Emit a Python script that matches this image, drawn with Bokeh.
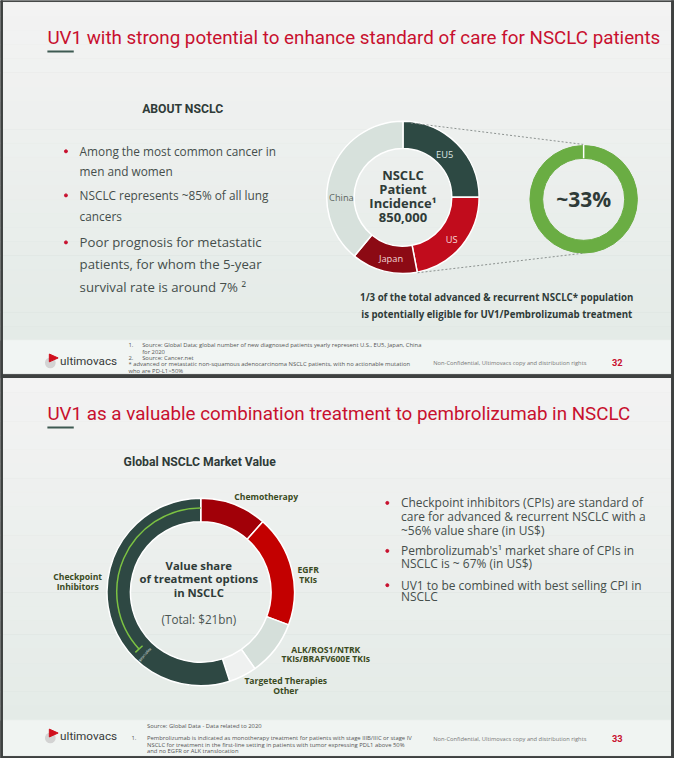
from bokeh.plotting import figure
from bokeh.models import Range1d
from bokeh.core.properties import value
from bokeh.embed import file_html
from bokeh.resources import INLINE
import numpy as np

# ---------------- data ----------------
incidence_labels = ["EU5", "US", "Japan", "China"]
incidence_share = [25, 22, 14, 39]          # % of 850,000 patients
eligible_share = 33                          # % eligible for UV1/Pembrolizumab

market_labels = ["Chemotherapy", "EGFR TKIs", "ALK/ROS1/NTRK TKIs/BRAFV600E TKIs",
                 "Targeted Therapies Other", "Checkpoint Inhibitors"]
market_share = [11.5, 19.2, 9.5, 4.8, 55.0]  # % of $21bn
pembro_share_of_cpi = 67                     # %

# ---------------- styles ----------------
RED = "#c8102e"
DARK = "#2f3b38"
TXT = "#454e4b"
OLIVE = "#3a4a22"
inc_colors = ["#2d4943", "#c10c1c", "#8c0a14", "#d7e1dc"]
inc_text_colors = ["#dfe7e4", "#f6dada", "#f2d6d6", "#5b6562"]
mk_colors = ["#a10008", "#c30000", "#d5dfda", "#eff1f0", "#2e4843"]

W, H = 674, 758
S = W / 690.0
p = figure(width=W, height=H, x_range=Range1d(0, 690), y_range=Range1d(-774, 0),
           output_backend="svg", toolbar_location=None, min_border=0)
p.axis.visible = False
p.grid.visible = False
p.outline_line_color = None
p.background_fill_color = "#f2f2f2"
p.border_fill_color = "#f2f2f2"


def hexmix(c1, c2, t):
    a = [int(c1[i:i + 2], 16) for i in (1, 3, 5)]
    b = [int(c2[i:i + 2], 16) for i in (1, 3, 5)]
    return "#%02x%02x%02x" % tuple(int(round(a[k] + (b[k] - a[k]) * t)) for k in range(3))


def band(y0, y1, c0, c1, n=24):
    ys = np.linspace(y0, y1, n + 1)
    cols = [hexmix(c0, c1, (i + 0.5) / n) for i in range(n)]
    p.quad(left=0, right=690, top=[-v for v in ys[:-1]], bottom=[-v for v in ys[1:]],
           fill_color=cols, line_color=cols)


def t(x, y, s, size, color=TXT, style="normal", align="left", font="Open Sans", angle=0.0):
    p.text(x=[x], y=[-y], text=[s], text_font=value(font), text_font_size=f"{size * S:.2f}px",
           text_color=color, text_font_style=style, text_align=align,
           text_baseline="middle", angle=angle)


# backgrounds and slide frames
p.quad(left=0, right=690, top=0, bottom=-774, fill_color="#3e4140", line_color="#3e4140")
band(2, 347, "#f3f3f3", "#e4ebe7")
p.quad(left=2, right=687, top=-347, bottom=-381, fill_color="#f1f5f3", line_color="#f1f5f3")
band(386, 735, "#f3f3f3", "#e4ebe7")
p.quad(left=2, right=687, top=-735, bottom=-771, fill_color="#f0f4f2", line_color="#f0f4f2")
for xl, xr in [(0, 2), (687, 690)]:
    p.quad(left=xl, right=xr, top=0, bottom=-774, fill_color="#3e4140", line_color="#3e4140")

# ================= SLIDE 1 =================
t(48, 38, "UV1 with strong potential to enhance standard of care for NSCLC patients", 19.25, RED, font="Roboto")
p.line([48, 75], [-52, -52], line_color="#3e5a52", line_width=2)
t(145, 111, "ABOUT NSCLC", 12.5, DARK, "bold", font="Roboto")

bul1 = [(154, "Among the most common cancer in", True), (174, "men and women", False),
        (199, "NSCLC represents ~85% of all lung", True), (220, "cancers", False),
        (247, "Poor prognosis for metastatic", True), (269, "patients, for whom the 5-year", False),
        (293, "survival rate is around 7% \u00b2", False)]
for y, s, dot in bul1:
    sz = 12.1 if y < 240 else 13.5
    t(81, y, s, sz, TXT)
    if dot:
        p.scatter([67], [-y], size=3, color=RED)

# donut 1
cx1, cy1, ri1, ro1 = 412, 201, 50, 78
cum = np.concatenate([[0], np.cumsum(incidence_share)]) / 100.0
starts = [90 - 360 * cum[i + 1] for i in range(4)]
ends = [90 - 360 * cum[i] for i in range(4)]
p.annular_wedge(x=cx1, y=-cy1, inner_radius=ri1, outer_radius=ro1,
                start_angle=starts, end_angle=ends, start_angle_units="deg", end_angle_units="deg",
                fill_color=inc_colors, line_color="white", line_width=1.5)
lab_ang = [45.5, -41, -101, 180]
lab_r = [61, 66, 64, 63]
for i, lab in enumerate(incidence_labels):
    a = np.radians(lab_ang[i])
    t(cx1 + lab_r[i] * np.cos(a), cy1 - lab_r[i] * np.sin(a), lab, 9.5, inc_text_colors[i],
      align="center", font="Open Sans")
for y, s in [(178, "NSCLC"), (192.5, "Patient"), (207, "Incidence\u00b9"), (221.5, "850,000")]:
    t(cx1, y, s, 13.3, DARK, "bold", "center")

# connector lines
p.line([420, 597], [-125, -147], line_color="#8c9290", line_dash="2 2", line_width=1)
p.line([427, 597], [-278, -258], line_color="#8c9290", line_dash="2 2", line_width=1)

# green ring
gx, gy = 597, 203
p.annular_wedge(x=gx, y=-gy, inner_radius=42, outer_radius=55, start_angle=-270, end_angle=90,
                start_angle_units="deg", end_angle_units="deg",
                fill_color="#6aad43", line_color="#6aad43")
p.line([gx, gx], [-147, -161], line_color="white", line_width=1.5)
t(gx, gy, f"~{eligible_share}%", 21.5, DARK, "bold", "center")

t(508, 303, "1/3 of the total advanced & recurrent NSCLC* population", 9.9, DARK, "bold", "center")
t(508, 321, "is potentially eligible for UV1/Pembrolizumab treatment", 9.9, DARK, "bold", "center")


def logo(yc):
    p.circle(x=[51], y=[-(yc + 2)], radius=5.5, fill_color="#d3d3d3", line_color=None)
    p.patch([50, 50, 59], [-(yc - 7), -(yc + 1), -(yc - 3)], fill_color="#d0101e", line_color="#d0101e")
    t(61, yc, "ultimovacs", 12, "#363a39", font="Roboto")


# footer 1
logo(368)
fs = 6.0
fc = "#555"
t(131, 352, "1.", fs, fc)
t(145, 352, "Source: Global Data; global number of new diagnosed patients yearly represent U.S., EU5, Japan, China", fs, fc)
t(145, 358.5, "for 2020", fs, fc)
t(131, 365, "2.", fs, fc)
t(145, 365, "Source: Cancer.net", fs, fc)
t(131, 371.5, "* advanced or metastatic non-squamous adenocarcinoma NSCLC patients, with no actionable mutation", fs, fc)
t(131, 378, "who are PD-L1>50%", fs, fc)
t(443, 370, "Non-Confidential, Ultimovacs copy and distribution rights", 5.9, "#777")
t(626, 370, "32", 9.5, RED, "bold", font="Roboto")

# ================= SLIDE 2 =================
t(48, 422, "UV1 as a valuable combination treatment to pembrolizumab in NSCLC", 19.25, RED, font="Roboto")
p.line([48, 75], [-436, -436], line_color="#3e5a52", line_width=2)
t(126, 471, "Global NSCLC Market Value", 12.5, DARK, "bold", font="Roboto")

cx2, cy2, ri2, ro2 = 205, 604, 72, 96
cum2 = np.concatenate([[0], np.cumsum(market_share)]) / 100.0
n2 = len(market_share)
st2 = [90 - 360 * cum2[i + 1] for i in range(n2)]
en2 = [90 - 360 * cum2[i] for i in range(n2)]
p.annular_wedge(x=cx2, y=-cy2, inner_radius=ri2, outer_radius=ro2,
                start_angle=st2, end_angle=en2, start_angle_units="deg", end_angle_units="deg",
                fill_color=mk_colors, line_color="white", line_width=1.5)

# pembrolizumab share arc inside CPI segment (from top, counter-clockwise)
cpi_span = 360 * market_share[-1] / 100.0
arc_end = 90 + cpi_span * pembro_share_of_cpi / 100.0
p.arc(x=cx2, y=-cy2, radius=86, start_angle=90, end_angle=arc_end, start_angle_units="deg",
      end_angle_units="deg", line_color="#7cc242", line_width=1.5)
ea = np.radians(arc_end)
p.line([cx2 + 81 * np.cos(ea), cx2 + 91 * np.cos(ea)],
       [-cy2 + 81 * np.sin(ea), -cy2 + 91 * np.sin(ea)], line_color="#7cc242", line_width=1.5)
ka = np.radians(arc_end + 6)
t(cx2 + 86 * np.cos(ka), cy2 - 86 * np.sin(ka), "Keytruda\u00ae", 3.5, "#e8eeec", align="center",
  angle=ka)

for y, s in [(577, "Value share"), (590.5, "of treatment options"), (604, "in NSCLC")]:
    t(203, y, s, 11.6, DARK, "bold", "center")
t(203, 632, "(Total: $21bn)", 12, "#4a5451", align="center")

ls = 8.8
t(272, 507, "Chemotherapy", ls, OLIVE, "bold", "center")
t(315, 582, "EGFR", ls, OLIVE, "bold", "center")
t(315, 592, "TKIs", ls, OLIVE, "bold", "center")
t(333, 663, "ALK/ROS1/NTRK", ls, OLIVE, "bold", "center")
t(333, 672.5, "TKIs/BRAFV600E TKIs", ls, OLIVE, "bold", "center")
t(292, 695, "Targeted Therapies", ls, OLIVE, "bold", "center")
t(292, 705, "Other", ls, OLIVE, "bold", "center")
t(79, 589, "Checkpoint", ls, OLIVE, "bold", "center")
t(79, 599, "Inhibitors", ls, OLIVE, "bold", "center")

bul2 = [(513, "Checkpoint inhibitors (CPIs) are standard of", True),
        (527, "care for advanced & recurrent NSCLC with a", False),
        (541, "~56% value share (in US$)", False),
        (562, "Pembrolizumab's\u00b9 market share of CPIs in", True),
        (575, "NSCLC is ~ 67% (in US$)", False),
        (597, "UV1 to be combined with best selling CPI in", True),
        (609, "NSCLC", False)]
for y, s, dot in bul2:
    t(410, y, s, 12.25, TXT)
    if dot:
        p.scatter([396], [-y], size=3, color=RED)

# footer 2
logo(751)
t(150, 740.5, "Source: Global Data - Data related to 2020", fs, fc)
t(134, 753.5, "1.", fs, fc)
t(150, 753.5, "Pembrolizumab is indicated as monotherapy treatment for patients with stage IIIB/IIIC or stage IV", fs, fc)
t(150, 760, "NSCLC for treatment in the first-line setting in patients with tumor expressing PDL1 above 50%", fs, fc)
t(150, 766.5, "and no EGFR or ALK translocation", fs, fc)
t(443, 754, "Non-Confidential, Ultimovacs copy and distribution rights", 5.9, "#777")
t(626, 754, "33", 9.5, RED, "bold", font="Roboto")

open("out.html", "w").write(file_html(p, INLINE))
